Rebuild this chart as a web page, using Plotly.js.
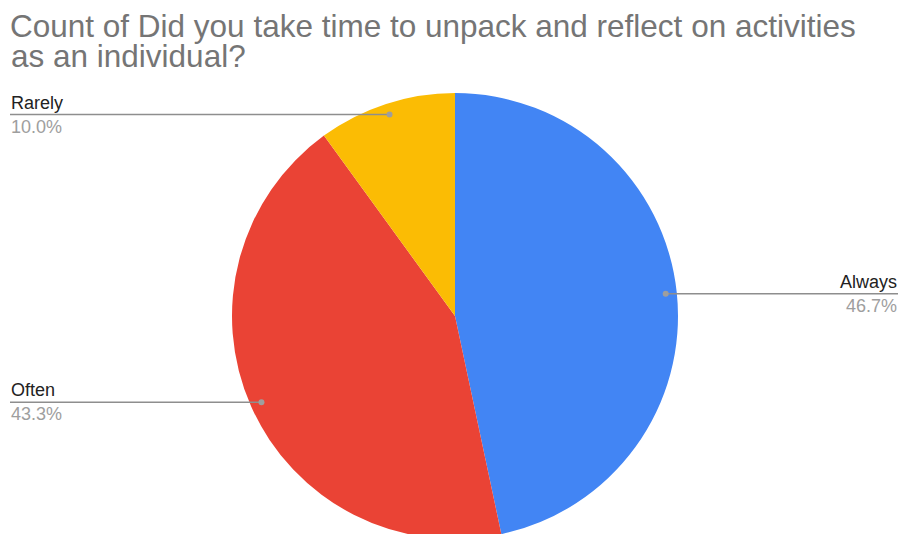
<!DOCTYPE html>
<html>
<head>
<meta charset="utf-8">
<script src="https://cdn.plot.ly/plotly-3.0.1.min.js"></script>
<style>
html,body{margin:0;padding:0;overflow:hidden;background:#fff;}
#chart{width:904px;height:545px;}
</style>
</head>
<body>
<div id="chart"></div>
<script>
const categories = ['Always', 'Often', 'Rarely'];
const counts = [14, 13, 3];
const sliceColors = ['#4285F4', '#EA4335', '#FBBC04'];
const titleLine1 = 'Count of Did you take time to unpack and reflect on activities';
const titleLine2 = 'as an individual?';

const W = 904, H = 545;
const M = {l: 232, r: 226, t: 93, b: 6};
const pw = W - M.l - M.r, ph = H - M.t - M.b;
const cx = M.l + pw / 2, cy = M.t + ph / 2;
const R = Math.min(pw, ph) / 2;
const toX = px => (px - M.l) / pw;
const toY = py => (H - M.b - py) / ph;
const FONT = 'Arial, "Liberation Sans", sans-serif';

const total = counts.reduce((a, b) => a + b, 0);
const shapes = [], annotations = [];
let cum = 0;
const lineColor = '#8e8e8e';
counts.forEach((v, i) => {
  const mid = (cum + v / 2) / total * 2 * Math.PI;
  cum += v;
  const d = 0.95 * R;
  const dx = cx + d * Math.sin(mid);
  const dy = cy - d * Math.cos(mid);
  const right = Math.sin(mid) > 0;
  const ex = right ? 898 : 10;
  shapes.push({type: 'line', xref: 'paper', yref: 'paper', x0: toX(dx), y0: toY(dy), x1: toX(ex), y1: toY(dy),
    line: {color: lineColor, width: 1.5}});
  shapes.push({type: 'circle', xref: 'paper', yref: 'paper', x0: toX(dx - 3), x1: toX(dx + 3), y0: toY(dy - 3), y1: toY(dy + 3),
    fillcolor: '#9e9e9e', line: {width: 0}});
  const pct = (v / total * 100).toFixed(1) + '%';
  annotations.push({xref: 'paper', yref: 'paper', x: toX(ex), y: toY(dy - 12), xanchor: right ? 'right' : 'left', yanchor: 'middle',
    text: categories[i], showarrow: false, font: {family: FONT, size: 18, color: '#222222'}, borderpad: 0});
  annotations.push({xref: 'paper', yref: 'paper', x: toX(ex), y: toY(dy + 12), xanchor: right ? 'right' : 'left', yanchor: 'middle',
    text: pct, showarrow: false, font: {family: FONT, size: 18, color: '#9e9e9e'}, borderpad: 0});
});

annotations.push({xref: 'paper', yref: 'paper', x: toX(10), y: toY(56), xanchor: 'left', yanchor: 'middle',
  text: titleLine2, showarrow: false, font: {family: FONT, size: 31.5, color: '#757575'}, borderpad: 0});

const data = [{
  type: 'pie',
  labels: categories,
  values: counts,
  marker: {colors: sliceColors, line: {width: 0}},
  sort: false,
  direction: 'clockwise',
  rotation: 0,
  textinfo: 'none',
  hoverinfo: 'label+value+percent',
  showlegend: false
}];

const layout = {
  width: W, height: H,
  margin: M,
  paper_bgcolor: '#ffffff',
  title: {text: titleLine1, xref: 'container', yref: 'container', x: 10 / W, xanchor: 'left', y: 1 - 26 / H, yanchor: 'middle',
    font: {family: FONT, size: 31.5, color: '#757575'}},
  shapes: shapes,
  annotations: annotations,
  showlegend: false
};

Plotly.newPlot('chart', data, layout, {displayModeBar: false, staticPlot: true});
</script>
</body>
</html>
